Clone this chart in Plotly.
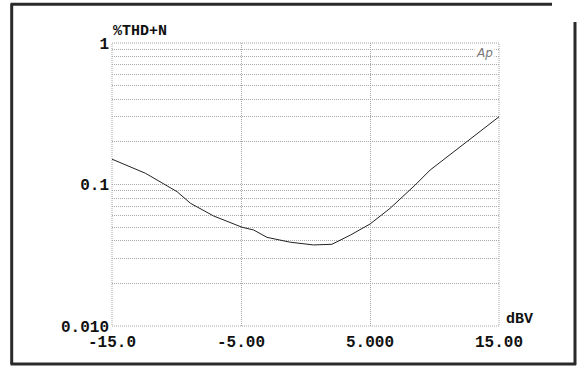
import plotly.graph_objects as go

# Data
level_dbv = [-15.0, -12.4, -9.95, -8.92, -7.12, -4.92, -4.02, -2.98, -1.18, 0.62, 2.05,
             3.46, 5.01, 6.56, 8.50, 9.66, 12.5, 15.0]
thd_n_pct = [0.151, 0.120, 0.0889, 0.0737, 0.0599, 0.0499, 0.0477, 0.0423, 0.0391, 0.0374,
             0.0378, 0.0438, 0.0526, 0.0679, 0.0991, 0.1265, 0.2006, 0.301]

x_tickvals = [-15, -5, 5, 15]
x_ticktext = ["-15.0", "-5.00", "5.000", "15.00"]
y_tickvals = [0.01, 0.1, 1]
y_ticktext = ["0.010", "0.1", "1"]
y_minor = [m * d for d in (0.01, 0.1) for m in range(2, 10)]

W, H = 583, 367
L, R, T, B = 112, 84, 43, 41
pw, ph = W - L - R, H - T - B


def px(xp):
    return (xp - L) / pw


def py(yp):
    return (H - B - yp) / ph


mono = "Liberation Mono, Courier New, monospace"
tick_font = dict(family=mono, size=16, color="#111", weight="bold")
GRID_C = "#a8a8a8"
DOTS = "1px,1px"
grid = dict(showgrid=True, gridcolor=GRID_C, griddash=DOTS, gridwidth=1)

fig = go.Figure()
fig.add_trace(go.Scatter(x=level_dbv, y=thd_n_pct, mode="lines",
                         line=dict(color="#222222", width=1), showlegend=False,
                         hoverinfo="skip"))

fig.update_layout(
    width=W, height=H,
    margin=dict(l=L, r=R, t=T, b=B),
    paper_bgcolor="white", plot_bgcolor="white",
    xaxis=dict(range=[-15, 15], tickvals=x_tickvals, ticktext=x_ticktext,
               tickfont=tick_font, zeroline=False, showline=False, ticks="",
               ticklabelstandoff=4, **grid),
    yaxis=dict(type="log", range=[-2, 0], tickvals=y_tickvals, ticktext=y_ticktext,
               tickfont=tick_font, zeroline=False, showline=False, ticks="",
               ticklabelstandoff=2,
               minor=dict(tickvals=y_minor, showgrid=True, gridcolor=GRID_C,
                          griddash=DOTS, gridwidth=1, ticks=""),
               **grid),
    shapes=[
        dict(type="rect", xref="paper", yref="paper", x0=0, x1=1, y0=0, y1=1,
             line=dict(color=GRID_C, width=1, dash=DOTS), layer="below"),
        dict(type="line", xref="paper", yref="paper", x0=px(11.7), x1=px(11.7),
             y0=py(4.3), y1=py(364), line=dict(color="#2a2a2a", width=3)),
        dict(type="line", xref="paper", yref="paper", x0=px(10.5), x1=px(552),
             y0=py(4.3), y1=py(4.3), line=dict(color="#2a2a2a", width=3)),
        dict(type="line", xref="paper", yref="paper", x0=px(10.5), x1=px(576),
             y0=py(364), y1=py(364), line=dict(color="#2a2a2a", width=3)),
        dict(type="line", xref="paper", yref="paper", x0=px(575), x1=px(575),
             y0=py(22), y1=py(365), line=dict(color="#2a2a2a", width=3)),
    ],
    annotations=[
        dict(text="%THD+N", xref="paper", yref="paper", x=px(111), y=py(32),
             xanchor="left", yanchor="middle", showarrow=False,
             font=dict(family=mono, size=15, color="#111", weight="bold")),
        dict(text="dBV", xref="paper", yref="paper", x=px(504), y=py(319),
             xanchor="left", yanchor="middle", showarrow=False,
             font=dict(family=mono, size=15, color="#111", weight="bold")),
        dict(text="<i>Ap</i>", xref="paper", yref="paper", x=px(484), y=py(53),
             xanchor="center", yanchor="middle", showarrow=False, bgcolor="white",
             borderpad=1,
             font=dict(family="DejaVu Sans, Liberation Sans, sans-serif", size=12,
                       color="#777")),
    ],
)

fig.write_html("out.html", config={"displayModeBar": False})

# remove the browser's default page margin so the figure sits at the top-left corner
with open("out.html", "r", encoding="utf-8") as f:
    html = f.read()
html = html.replace("<head>", "<head><style>html,body{margin:0;padding:0;overflow:hidden}</style>", 1)
with open("out.html", "w", encoding="utf-8") as f:
    f.write(html)
